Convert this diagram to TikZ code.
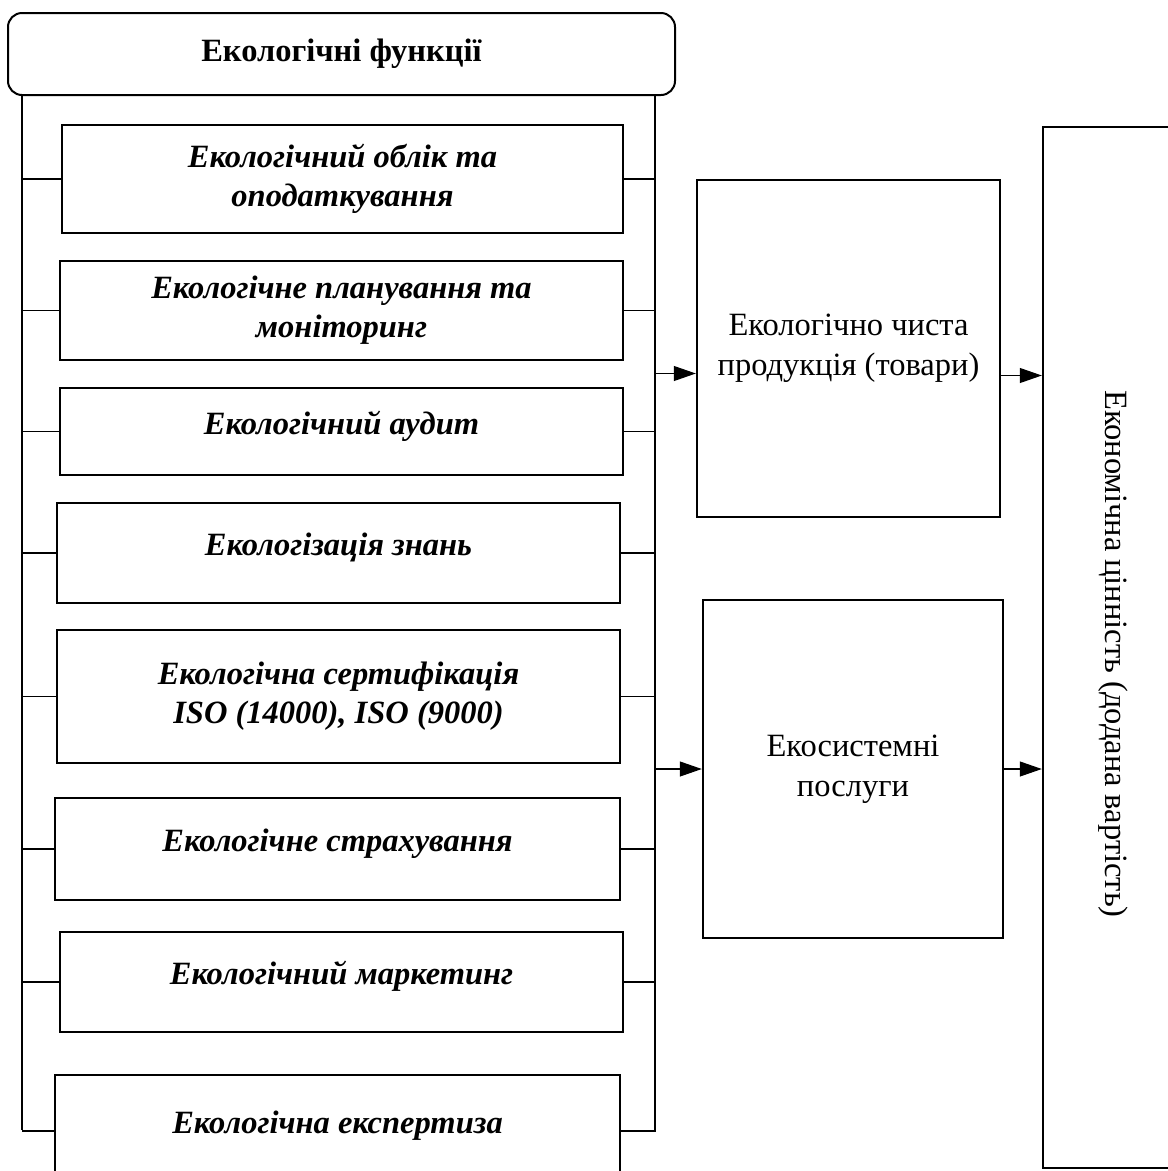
\documentclass[tikz,border=0pt]{standalone}
\usepackage{fontspec}
\setmainfont{Liberation Serif}
\usetikzlibrary{arrows.meta,positioning}

\tikzset{
  funcbox/.style={draw, line width=2.4pt, align=center, inner sep=0pt,
    font=\fontsize{32.5}{39}\selectfont\bfseries\itshape},
  oneline/.style={text depth=18pt},
  resbox/.style={draw, line width=2.4pt, align=center, inner sep=0pt,
    font=\fontsize{32.5}{40}\selectfont},
  tick/.style={line width=1.1pt},
  arr/.style={line width=1.1pt, -{Triangle[length=22pt,width=15pt]}},
}

\begin{document}
\begin{tikzpicture}[x=1pt,y=-1pt]
  \useasboundingbox (0,0) rectangle (1168,1171);

  % head
  \node[draw, line width=2pt, rounded corners=14pt, minimum width=667pt, minimum height=82pt,
        font=\fontsize{32.5}{39}\selectfont\bfseries] (head) at (341.5,54) {Екологічні функції};

  % left column
  \node[funcbox, minimum width=561pt, minimum height=108pt] (f1) at (342.5,179)
    {Екологічний облік та\\оподаткування};
  \node[funcbox, minimum width=563pt, minimum height=99pt] (f2) at (341.5,310.5)
    {Екологічне планування та\\моніторинг};
  \node[funcbox, oneline, minimum width=563pt, minimum height=87pt] (f3) at (341.5,431.5)
    {Екологічний аудит};
  \node[funcbox, oneline, minimum width=563pt, minimum height=100pt] (f4) at (338.5,553)
    {Екологізація знань};
  \node[funcbox, minimum width=563pt, minimum height=133pt] (f5) at (338.5,696.5)
    {Екологічна сертифікація\\ISO (14000), ISO (9000)};
  \node[funcbox, oneline, minimum width=565pt, minimum height=102pt] (f6) at (337.5,849)
    {Екологічне страхування};
  \node[funcbox, oneline, minimum width=563pt, minimum height=100pt] (f7) at (341.5,982)
    {Екологічний маркетинг};
  \node[funcbox, oneline, minimum width=565pt, minimum height=112pt] (f8) at (337.5,1131)
    {Екологічна експертиза};

  % bus lines
  \coordinate (ltop) at (22,95);
  \coordinate (lbot) at (22,1130);
  \coordinate (rtop) at (655,95);
  \coordinate (rbot) at (655,1132);
  \draw[tick] (ltop) -- (lbot);
  \draw[tick] (rtop) -- (rbot);
  \foreach \f in {f1,f2,f3,f4,f5,f6,f7,f8}{
    \draw[tick] (\f.west) -- (\f.west -| ltop);
    \draw[tick] (\f.east) -- (\f.east -| rtop);
  }

  % results
  \node[resbox, minimum width=303pt, minimum height=337pt] (prod) at (848.5,348.5)
    {Екологічно чиста\\продукція (товари)};
  \node[resbox, minimum width=300pt, minimum height=338pt] (serv) at (853,769)
    {Екосистемні\\послуги};
  \node[draw, line width=2.4pt, minimum width=200pt, minimum height=1041pt] (value) at (1143,647.5) {};
  \node[rotate=-90, font=\fontsize{32.5}{39}\selectfont] (valuetext) at (1113,654)
    {Економічна цінність (додана вартість)};

  \draw[arr] ([yshift=-25pt]prod.west -| rtop) -- ([yshift=-25pt]prod.west);
  \draw[arr] ([yshift=-27pt]prod.east) -- ([yshift=-27pt]prod.east -| value.west);
  \draw[arr] (serv.west -| rtop) -- (serv.west);
  \draw[arr] (serv.east) -- (serv.east -| value.west);
\end{tikzpicture}
\end{document}
